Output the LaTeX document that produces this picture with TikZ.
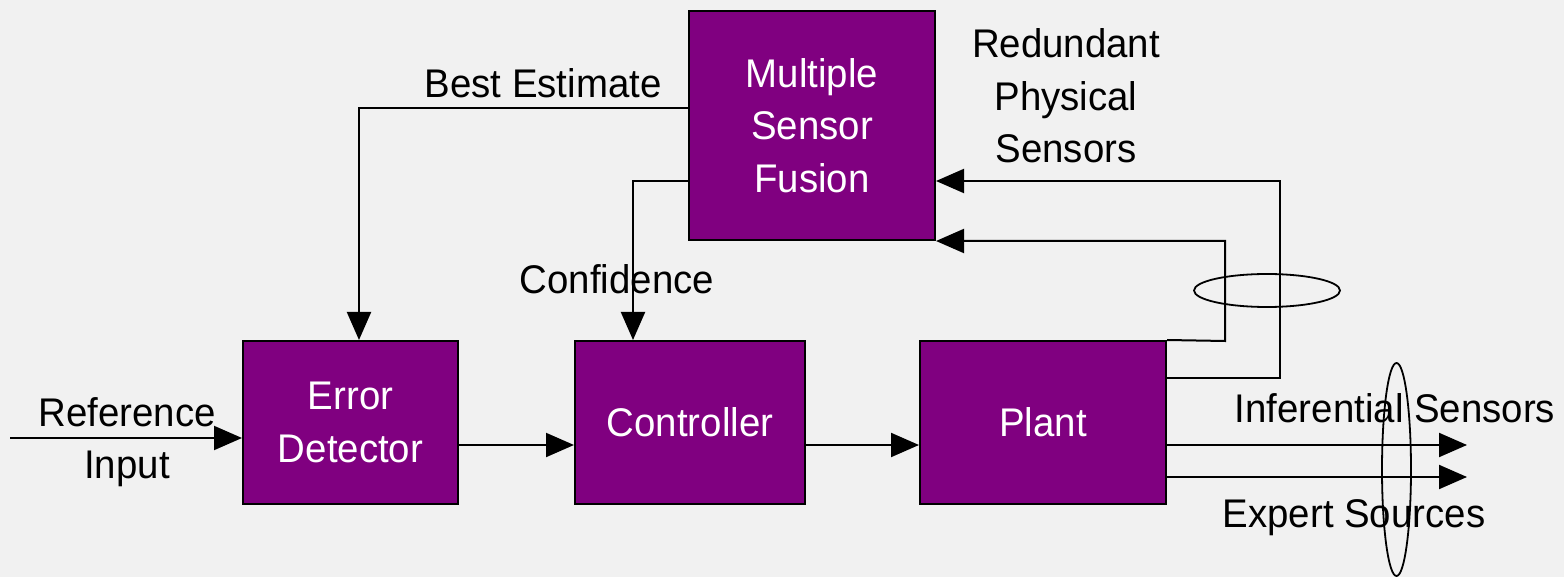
\documentclass[tikz,border=0pt]{standalone}
\usepackage{fontspec}
\setmainfont{Liberation Sans}[FakeStretch=0.96]
\usetikzlibrary{arrows.meta}
\definecolor{boxpurple}{RGB}{128,0,128}
\definecolor{bggray}{RGB}{241,241,241}
\begin{document}
\begin{tikzpicture}[x=1pt,y=-1pt,
  blk/.style={draw=black,line width=2pt,fill=boxpurple,text=white,align=center,font=\fontsize{40}{52.5}\selectfont,inner sep=0pt},
  lbl/.style={align=center,font=\fontsize{40}{52.5}\selectfont,inner sep=0pt},
  arr/.style={line width=2pt,-{Triangle[length=28pt,width=24pt]}},
  ring/.style={line width=1.8pt}]
\fill[bggray] (0,0) rectangle (1564,577);
\useasboundingbox (0,0) rectangle (1564,577);
% blocks
\node[blk,minimum width=246pt,minimum height=229pt] (msf) at (812,125.5) {Multiple\\Sensor\\Fusion};
\node[blk,minimum width=215pt,minimum height=163pt] (ed) at (350.5,422.5) {Error\\Detector};
\node[blk,minimum width=230pt,minimum height=163pt] (ctrl) at (690,422.5) {Controller};
\node[blk,minimum width=246pt,minimum height=163pt] (plant) at (1043,422.5) {Plant};
% labels
\node[lbl] (ref) at (127,442) {Reference\\Input};
\node[lbl,anchor=base] (best) at (543,98) {Best Estimate};
\node[lbl,anchor=base] (conf) at (617,294) {Confidence};
\node[lbl] (red) at (1066,96) {Redundant\\Physical\\Sensors};
\node[lbl,anchor=base] (inf) at (1395,422) {Inferential Sensors};
\node[lbl,anchor=base] (exp) at (1354,527) {Expert Sources};
% connectors
\coordinate (refin) at (10,438);
\draw[arr] (refin) -- (ed.west |- refin);
\draw[arr] (ed.east |- 0,445) -- (ctrl.west |- 0,445);
\draw[arr] (ctrl.east |- 0,445) -- (plant.west |- 0,445);
\draw[arr] (msf.west |- 0,108) -| (ed.north -| 359,0);
\draw[arr] (msf.west |- 0,181) -| (ctrl.north -| 633,0);
\draw[arr] (plant.east |- 0,378) -| (1280,181) -- (msf.east |- 0,181);
\draw[arr] (plant.north east) -- (1225,341) |- (msf.south east);
\coordinate (o1) at (1467,445);
\coordinate (o2) at (1467,477);
\draw[arr] (plant.east |- o1) -- (o1);
\draw[arr] (plant.east |- o2) -- (o2);
% bundle rings
\draw[ring] (1267,290.5) ellipse [x radius=73pt, y radius=16.5pt];
\draw[ring] (1396.5,469.5) ellipse [x radius=14.5pt, y radius=106.5pt];
\end{tikzpicture}
\end{document}
